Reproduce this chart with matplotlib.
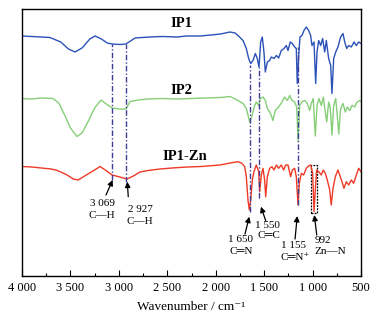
import matplotlib
matplotlib.use('Agg')
import matplotlib.pyplot as plt
from matplotlib.ticker import MultipleLocator, FuncFormatter
from matplotlib.patches import Rectangle

plt.rcParams['font.family'] = ['Liberation Serif', 'DejaVu Serif', 'DejaVu Sans']

# spectra: wavenumber (cm-1) vs stacked transmittance (a.u.)
ip1_w = [4000, 3900, 3800, 3711, 3650, 3600, 3520, 3453, 3380, 3300, 3246, 3180, 3120, 3070,
         2990, 2927, 2880, 2833, 2760, 2680, 2550, 2400, 2300, 2160, 2050, 1950, 1853, 1800,
         1770, 1718, 1684, 1660, 1639, 1615, 1591, 1571, 1553, 1536, 1519, 1502, 1488, 1467,
         1443, 1426, 1398, 1374, 1350, 1323, 1295, 1271, 1254, 1230, 1209, 1185, 1168, 1158,
         1143, 1130, 1109, 1089, 1065, 1040, 1020, 1006, 985, 968, 954, 937, 916, 896, 875,
         858, 834, 813, 800, 782, 761, 738, 710, 686, 668, 648, 627, 600, 572, 548, 524, 500]
ip1_t = [240, 239.5, 239, 238.5, 236, 234, 227, 224, 228, 237, 240, 237, 233, 232,
         231.5, 232, 235, 238, 238.5, 239, 239.5, 239, 240, 240, 241, 242, 244, 243,
         240.5, 235.5, 227.5, 217.5, 212.5, 215.5, 222.5, 217.5, 209, 234, 239, 224, 204, 214,
         215.5, 219, 217.5, 220.5, 218, 225.5, 227.5, 230.5, 225.5, 234, 232.5, 229, 227.5, 192.5,
         220.5, 239, 240.5, 245.5, 249, 245.5, 240.5, 230.5, 234, 192.5, 224, 235.5, 230.5, 237.5, 224,
         235.5, 217.5, 210.5, 182.5, 217.5, 224, 229, 239, 242.5, 234, 227.5, 230.5, 229, 234, 230.5, 234, 232.5]

ip2_w = [4000, 3900, 3800, 3680, 3620, 3560, 3500, 3432, 3380, 3320, 3250, 3184, 3130, 3070,
         2990, 2927, 2885, 2800, 2700, 2550, 2400, 2250, 2100, 1950, 1850, 1770, 1718, 1684,
         1649, 1625, 1598, 1581, 1556, 1540, 1512, 1488, 1467, 1443, 1426, 1409, 1385, 1364,
         1340, 1316, 1288, 1261, 1236, 1212, 1185, 1164, 1150, 1133, 1109, 1081, 1054, 1030,
         1013, 993, 972, 954, 934, 910, 889, 869, 854, 834, 817, 800, 782, 761, 745, 730,
         710, 686, 662, 641, 617, 593, 565, 541, 513, 500]
ip2_t = [177.5, 177, 178, 177.5, 173, 161, 148, 139.5, 143, 154, 168, 176, 172, 168,
         167, 167, 174.5, 176, 177, 177.5, 177, 177.5, 178, 178.5, 179.5, 175.5, 172.5, 167.5,
         154, 160.5, 170.5, 174, 170.5, 177.5, 179, 175.5, 167.5, 164, 160.5, 155.5, 165.5, 167.5,
         170.5, 174, 179, 175.5, 180.5, 175.5, 174, 169, 135.5, 170.5, 174, 175.5, 172.5, 165.5,
         172.5, 177.5, 140, 170.5, 177.5, 170.5, 179, 164, 154, 174, 167.5, 141, 170.5, 177.5, 160.5, 142,
         167.5, 172.5, 164, 169, 165.5, 170.5, 169, 174, 175.5, 174.5]

zn_w = [4000, 3900, 3800, 3700, 3650, 3600, 3535, 3470, 3420, 3370, 3320, 3250, 3195, 3140,
        3070, 2990, 2916, 2850, 2782, 2700, 2575, 2450, 2297, 2150, 1956, 1850, 1770, 1729,
        1701, 1684, 1667, 1653, 1639, 1622, 1605, 1581, 1556, 1546, 1529, 1512, 1495, 1484,
        1467, 1443, 1419, 1398, 1374, 1350, 1323, 1298, 1278, 1254, 1226, 1209, 1185, 1168,
        1150, 1137, 1116, 1092, 1065, 1040, 1020, 999, 985, 972, 958, 937, 910, 889, 869,
        848, 823, 807, 789, 765, 738, 714, 696, 676, 652, 627, 600, 576, 548, 524, 500]
zn_t = [109.5, 109, 108, 107, 106, 104, 101, 97, 96, 99, 102, 106, 109.5, 106,
        101, 99, 97, 100, 104, 105.5, 107, 108, 109, 109.5, 111, 113, 114.3, 112.7,
        109.3, 99.3, 76, 66, 76, 96, 104.3, 111, 104.3, 84.3, 101, 107.7, 96, 79.3,
        99.3, 107.7, 109.3, 106, 111, 107.7, 111, 106, 111, 111, 99.3, 106, 107.7, 99.3,
        71, 92.7, 102.7, 101, 107.7, 110, 111, 102.7, 64.3, 86, 106, 104.3, 101, 106, 102.7,
        96, 86, 71, 87.7, 99.3, 106, 99.3, 94.3, 87.7, 94.3, 91, 96, 92.7, 101, 107.7, 104.3]

# marked bands: wavenumber, top and bottom of the guide line
band_w = [3069, 2927, 1650, 1550, 1155]
band_top = [232, 232, 211, 209, 229]
band_bot = [96, 94, 64, 78, 71]

fig = plt.figure(figsize=(3.77, 3.19), dpi=100)
ax = fig.add_axes([22 / 377, 1 - 276 / 319, 339 / 377, 267 / 319])

ax.plot(ip1_w, ip1_t, color='#2b52b8', lw=1.0)
ax.plot(ip2_w, ip2_t, color='#86cf78', lw=1.0)
ax.plot(zn_w, zn_t, color='#ef3a26', lw=1.0)

for w, t, b in zip(band_w, band_top, band_bot):
    ax.plot([w, w], [b, t], color='#3d3d96', lw=1.0, ls='-.', dashes=(4, 1.5, 1, 1.5))

ax.add_patch(Rectangle((1016, 63), -62, 48, fill=False, ec='k', lw=0.9, ls=(0, (1.5, 1))))

ax.text(2351, 252.7, 'IP1', ha='center', va='center', fontsize=10.5, fontweight='bold')
ax.text(2351, 186, 'IP2', ha='center', va='center', fontsize=10.5, fontweight='bold')
ax.text(2317, 119.3, 'IP1-Zn', ha='center', va='center', fontsize=10.5, fontweight='bold')

ap = dict(arrowstyle='-|>', color='k', lw=0.9, mutation_scale=8, shrinkA=0, shrinkB=0)
ax.annotate('', xy=(3064, 96), xytext=(3133, 81), arrowprops=ap)
ax.annotate('', xy=(2913, 94.3), xytext=(2903, 79.3), arrowprops=ap)
ax.annotate('', xy=(1653, 59.3), xytext=(1698, 42), arrowprops=ap)
ax.annotate('', xy=(1533, 69.3), xytext=(1484, 55.3), arrowprops=ap)
ax.annotate('', xy=(1158, 60), xytext=(1181, 37), arrowprops=ap)
ax.annotate('', xy=(982, 61), xytext=(957, 41), arrowprops=ap)

labels = [(3174, 73, '3 069'), (3177, 61, 'C—H'),
          (2782, 67, '2 927'), (2782, 55, 'C—H'),
          (1744, 37, '1 650'), (1738, 25, 'C═N'),
          (1466, 50, '1 550'), (1450, 40, 'C═C'),
          (1192, 30.8, '1 155'), (1185, 19, 'C═N⁺'),
          (892, 35.5, '992'), (820, 24.7, 'Zn—N')]
for x, y, s in labels:
    ax.text(x, y, s, ha='center', va='center', fontsize=8)

ax.set_xlim(4000, 500)
ax.set_ylim(0, 267)
ax.set_yticks([])
ax.xaxis.set_major_locator(MultipleLocator(500))
ax.xaxis.set_minor_locator(MultipleLocator(250))
ax.xaxis.set_major_formatter(FuncFormatter(lambda v, p: f'{int(v):,}'.replace(',', ' ')))
ax.tick_params(axis='x', which='major', direction='in', length=4, width=0.8, labelsize=9, pad=4)
ax.tick_params(axis='x', which='minor', direction='in', length=2, width=0.8)
ax.set_xlabel('Wavenumber / cm⁻¹', fontsize=9.5, labelpad=5)
for s in ax.spines.values():
    s.set_linewidth(1.0)

fig.savefig('out.png', dpi=100)
